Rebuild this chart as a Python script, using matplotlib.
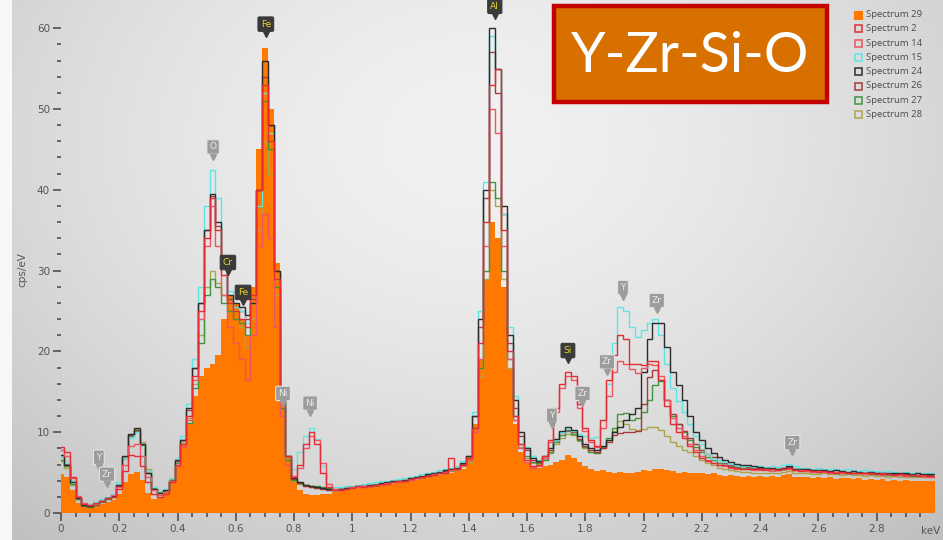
import numpy as np
import matplotlib
matplotlib.use("Agg")
import matplotlib.pyplot as plt
from matplotlib.patches import Rectangle

# ---------------- data ----------------
energy_kev = np.round(np.arange(151) * 0.02, 2)

spec29 = [4.8, 4.5, 2.8, 1.2, 0.9, 0.8, 0.9, 1.1, 1.3, 1.6,
          2.4, 3.8, 4.8, 5.1, 4.1, 2.5, 1.7, 1.8, 2.8, 4.2,
          6.0, 8.5, 11, 14.5, 17, 18, 18.5, 19.5, 24, 27,
          26, 24, 22, 28, 45, 57.5, 50, 31, 15, 7,
          3.8, 2.8, 2.4, 2.2, 2.2, 2.3, 2.4, 2.6, 2.7, 2.9,
          3.0, 3.1, 3.2, 3.3, 3.4, 3.4, 3.5, 3.6, 3.7, 3.8,
          4.0, 4.1, 4.3, 4.5, 4.6, 4.7, 4.9, 5.0, 5.2, 5.5,
          7, 11, 19, 29, 36, 34, 28, 18, 11, 7.5,
          6.3, 5.8, 5.6, 5.8, 6.0, 6.3, 6.6, 7.2, 6.8, 6.3,
          5.8, 5.4, 5.2, 5.3, 5.1, 5.0, 5.1, 4.9, 5.0, 5.1,
          5.3, 5.2, 5.5, 5.4, 5.3, 5.2, 5.0, 5.1, 5.0, 4.9,
          5.0, 4.8, 4.9, 4.7, 4.6, 4.7, 4.6, 4.5, 4.6, 4.5,
          4.6, 4.5, 4.6, 4.4, 4.7, 4.8, 4.5, 4.4, 4.5, 4.3,
          4.4, 4.3, 4.4, 4.2, 4.3, 4.3, 4.2, 4.3, 4.1, 4.2,
          4.1, 4.2, 4.0, 4.1, 4.0, 4.1, 3.9, 4.0, 4.0, 3.9,
          3.9]

spec2 = [8.2, 7.5, 4.5, 2.0, 1.1, 1.0, 1.2, 1.5, 1.8, 2.0,
         3.0, 5.2, 7.2, 7.0, 5.8, 3.8, 2.4, 2.0, 2.4, 3.8,
         6.0, 8.5, 12, 17, 25, 34, 39, 35, 29.5, 26,
         25, 24, 23, 27, 40, 53, 46, 29, 14, 7,
         4.5, 6.0, 8.5, 10.0, 8.5, 5.0, 3.2, 2.9, 2.9, 3.0,
         3.1, 3.3, 3.2, 3.4, 3.5, 3.6, 3.6, 3.8, 3.9, 4.0,
         4.2, 4.3, 4.4, 4.6, 4.7, 4.9, 5.0, 6.8, 5.4, 5.9,
         6.8, 10.5, 21, 36, 53, 55, 35, 20, 12, 8.5,
         6.5, 5.8, 6.0, 7.0, 9.0, 13, 16, 17.5, 17, 13.5,
         10.5, 9.0, 8.3, 11.5, 16.5, 19.5, 22, 21.5, 18.5, 18.5,
         18.3, 18.8, 18.8, 16.5, 13.2, 11, 10, 9.3, 8.3, 7.5,
         6.8, 6.4, 6.2, 6.0, 5.9, 5.7, 5.6, 5.5, 5.5, 5.4,
         5.4, 5.3, 5.4, 5.3, 5.5, 5.6, 5.3, 5.2, 5.3, 5.2,
         5.1, 5.2, 5.1, 5.0, 5.1, 5.0, 4.9, 5.0, 4.9, 4.9,
         4.8, 4.9, 4.8, 4.7, 4.8, 4.7, 4.7, 4.6, 4.7, 4.6,
         4.6]

spec14 = [7.8, 7.0, 4.3, 2.1, 1.2, 1.0, 1.1, 1.5, 1.9, 2.2,
          3.2, 6.0, 8.3, 8.5, 7.0, 4.5, 2.8, 2.2, 2.6, 3.9,
          5.8, 8.2, 11.5, 16.5, 24, 33, 38, 33, 27, 23,
          21, 19, 16.5, 22, 33, 37, 34, 23, 12, 6,
          4.6, 5.6, 8.0, 9.5, 9.0, 6.2, 3.6, 3.0, 2.9, 3.0,
          3.2, 3.2, 3.3, 3.3, 3.5, 3.5, 3.7, 3.8, 3.8, 4.0,
          4.1, 4.3, 4.5, 4.6, 4.8, 5.0, 5.1, 5.3, 5.5, 6.0,
          6.5, 10, 19, 33, 50, 47, 33, 19, 11.5, 8,
          6.3, 5.6, 5.8, 6.8, 8.8, 12.5, 15.5, 17, 16.5, 13,
          10.2, 8.8, 8.2, 10.5, 14.5, 17.5, 18.8, 18.5, 17.8, 17.3,
          18, 18.5, 18.3, 17, 14, 11.8, 10.5, 9.5, 8.6, 7.8,
          7.0, 6.5, 6.2, 6.0, 5.8, 5.6, 5.5, 5.4, 5.4, 5.3,
          5.3, 5.4, 5.2, 5.3, 5.4, 5.5, 5.3, 5.3, 5.2, 5.1,
          5.2, 5.1, 5.0, 5.1, 5.0, 4.9, 5.0, 4.9, 4.8, 4.9,
          4.8, 4.7, 4.8, 4.7, 4.7, 4.6, 4.7, 4.6, 4.6, 4.5,
          4.5]

spec15 = [7.0, 6.2, 4.0, 2.0, 1.2, 1.1, 1.3, 1.7, 2.0, 2.4,
          3.8, 6.8, 9.3, 10.0, 8.3, 5.2, 3.2, 2.7, 3.0, 4.3,
          6.8, 9.5, 13.5, 19, 28, 38, 42.5, 39, 31.5, 27.5,
          25.5, 25, 23.5, 26, 38, 52, 47, 29, 14, 7,
          5.5, 7.5, 9.5, 10.5, 9.2, 5.8, 3.6, 3.2, 3.2, 3.3,
          3.4, 3.5, 3.6, 3.7, 3.8, 3.9, 4.0, 4.1, 4.2, 4.3,
          4.5, 4.6, 4.8, 5.0, 5.1, 5.3, 5.5, 5.6, 5.8, 6.4,
          7, 12.5, 25, 41, 59, 55, 37, 23, 14.5, 10,
          8.2, 7.0, 6.5, 7.0, 8.0, 9.0, 10, 10.4, 10.2, 9.8,
          9.5, 9.3, 9.4, 11.5, 16, 21, 25.5, 25, 23, 21.8,
          22.6, 23.5, 24, 22, 18.5, 15.5, 13.8, 12.5, 11, 9.5,
          8.5, 7.3, 6.7, 6.5, 6.3, 6.1, 5.9, 5.8, 5.8, 5.7,
          5.8, 5.7, 5.8, 5.7, 5.9, 6.1, 5.8, 5.6, 5.6, 5.5,
          5.6, 5.4, 5.5, 5.4, 5.3, 5.4, 5.3, 5.2, 5.3, 5.2,
          5.2, 5.1, 5.2, 5.1, 5.0, 5.1, 5.0, 5.0, 4.9, 5.0,
          4.9]

spec24 = [7.2, 6.0, 3.8, 1.8, 1.0, 0.9, 1.1, 1.5, 1.8, 2.1,
          3.5, 7.0, 9.8, 10.5, 8.5, 5.0, 3.0, 2.5, 2.8, 4.0,
          6.5, 9.0, 13, 18, 26, 35, 39.5, 36, 31, 27,
          26, 25.5, 24.5, 26, 40, 56, 48, 30, 14, 7,
          4.3, 3.8, 3.5, 3.3, 3.2, 3.1, 3.0, 2.9, 3.0, 3.1,
          3.2, 3.3, 3.4, 3.5, 3.5, 3.7, 3.8, 3.9, 4.0, 4.1,
          4.3, 4.4, 4.6, 4.8, 4.9, 5.1, 5.3, 5.4, 5.6, 6.2,
          7, 12, 24, 40, 60, 55, 38, 22, 14, 10,
          8, 6.8, 6.4, 7, 8, 9.2, 10.2, 10.6, 10.3, 9.5,
          8.5, 8.0, 7.8, 8.3, 9.0, 10.0, 10.6, 11.5, 12.3, 13.0,
          17.5, 21.5, 23.5, 23.5, 20.5, 17.5, 15.8, 14, 12, 10,
          9, 8.0, 7.4, 6.9, 6.6, 6.3, 6.1, 6.0, 5.9, 5.8,
          5.7, 5.6, 5.6, 5.5, 5.6, 5.8, 5.5, 5.4, 5.4, 5.3,
          5.3, 5.3, 5.2, 5.3, 5.2, 5.1, 5.2, 5.1, 5.0, 5.1,
          5.0, 5.0, 4.9, 5.0, 4.9, 4.9, 4.8, 4.9, 4.8, 4.8,
          4.8]

spec26 = [7.0, 6.1, 3.9, 1.9, 1.0, 0.9, 1.1, 1.5, 1.8, 2.1,
          3.4, 6.8, 9.6, 10.3, 8.4, 5.0, 3.0, 2.5, 2.8, 4.0,
          6.4, 9.0, 12.8, 18, 26, 35, 39.2, 35.5, 30.5, 26.5,
          25.5, 25, 24, 26.5, 40, 54, 48, 30, 14, 7,
          4.2, 3.7, 3.4, 3.2, 3.1, 3.0, 2.9, 2.9, 3.0, 3.1,
          3.2, 3.3, 3.3, 3.4, 3.5, 3.6, 3.7, 3.8, 3.9, 4.0,
          4.2, 4.3, 4.5, 4.7, 4.8, 5.0, 5.2, 5.3, 5.5, 6.1,
          7, 12, 23, 39, 57, 52, 37, 21, 13, 9.5,
          7.8, 6.6, 6.3, 6.8, 7.8, 9, 10, 10.3, 10, 9.2,
          8.3, 7.8, 7.6, 8.0, 8.8, 9.6, 9.9, 10.0, 10.0, 10.2,
          13.5, 16.8, 17.7, 16.5, 14, 12.2, 11, 10.2, 9.3, 8.5,
          7.8, 7.3, 6.9, 6.5, 6.2, 6.0, 5.9, 5.8, 5.7, 5.6,
          5.6, 5.5, 5.5, 5.4, 5.5, 5.7, 5.4, 5.3, 5.3, 5.2,
          5.2, 5.2, 5.1, 5.1, 5.1, 5.0, 5.0, 5.0, 4.9, 4.9,
          4.9, 4.8, 4.8, 4.8, 4.7, 4.8, 4.7, 4.7, 4.6, 4.7,
          4.6]

spec27 = [6.6, 5.8, 3.6, 1.7, 0.9, 0.8, 1.0, 1.4, 1.7, 2.0,
          3.4, 6.8, 9.5, 10.2, 8.6, 5.2, 3.1, 2.5, 2.8, 4.1,
          6.2, 8.6, 11.2, 15.5, 21, 27, 29, 28, 26, 25,
          24, 23.5, 22, 26, 38, 51, 45, 28, 13, 6.5,
          4.1, 3.7, 3.5, 3.4, 3.3, 3.2, 3.1, 3.0, 3.0, 3.1,
          3.2, 3.3, 3.4, 3.5, 3.6, 3.7, 3.8, 3.9, 4.0, 4.1,
          4.2, 4.4, 4.5, 4.7, 4.8, 5.0, 5.1, 5.3, 5.4, 6.0,
          6.5, 10.5, 18, 30, 41, 39, 30, 19, 12, 8.5,
          7, 6.3, 6.2, 6.6, 7.6, 8.8, 9.7, 10.2, 9.8, 9.0,
          8.2, 7.6, 7.4, 8.2, 9.3, 10.5, 12.2, 12.4, 11.5, 11.8,
          12.5, 14, 15.8, 16.3, 14, 12, 11, 10, 9, 8.2,
          7.5, 6.9, 6.5, 6.2, 6.0, 5.8, 5.7, 5.6, 5.6, 5.5,
          5.5, 5.4, 5.4, 5.3, 5.4, 5.6, 5.3, 5.3, 5.2, 5.2,
          5.1, 5.2, 5.1, 5.0, 5.0, 5.0, 4.9, 4.9, 4.9, 4.8,
          4.8, 4.8, 4.7, 4.8, 4.7, 4.7, 4.6, 4.7, 4.6, 4.6,
          4.6]

spec28 = [6.4, 5.6, 3.5, 1.7, 1.0, 0.9, 1.1, 1.5, 1.8, 2.1,
          3.5, 6.9, 9.7, 10.4, 8.8, 5.4, 3.2, 2.6, 2.9, 4.2,
          6.4, 8.8, 11.8, 16, 22, 28, 30, 28.5, 27, 26,
          25, 23, 20.5, 24, 35, 46, 42, 27, 13, 6.5,
          4.0, 3.6, 3.3, 3.2, 3.1, 3.0, 2.9, 2.9, 3.0, 3.0,
          3.1, 3.2, 3.3, 3.4, 3.5, 3.6, 3.7, 3.8, 3.9, 4.0,
          4.1, 4.3, 4.4, 4.6, 4.7, 4.9, 5.0, 5.2, 5.3, 5.8,
          6.3, 10, 17, 29, 40, 38, 29, 18, 11.5, 8.2,
          6.8, 6.2, 6.1, 6.5, 7.4, 8.5, 9.3, 9.8, 9.6, 8.9,
          8.1, 7.6, 7.4, 8.0, 9.0, 10.2, 11.4, 11.0, 10.4, 10.3,
          10.4, 10.6, 10.6, 10.3, 9.5, 8.8, 8.3, 7.8, 7.5, 7.0,
          6.6, 6.2, 5.9, 5.6, 5.4, 5.3, 5.2, 5.1, 5.1, 5.0,
          5.0, 5.0, 4.9, 5.0, 5.1, 5.2, 5.0, 4.9, 4.9, 4.8,
          4.8, 4.9, 4.8, 4.8, 4.7, 4.8, 4.7, 4.7, 4.6, 4.7,
          4.6, 4.6, 4.5, 4.6, 4.5, 4.5, 4.4, 4.5, 4.4, 4.4,
          4.4]

legend_names = ["Spectrum 29", "Spectrum 2", "Spectrum 14", "Spectrum 15",
                "Spectrum 24", "Spectrum 26", "Spectrum 27", "Spectrum 28"]

x_tick_labels = ["0", "0.2", "0.4", "0.6", "0.8", "1", "1.2", "1.4", "1.6",
                 "1.8", "2", "2.2", "2.4", "2.6", "2.8"]

peak_labels = ["Fe", "Al", "O", "Cr", "Fe", "Ni", "Ni", "Si", "Y", "Zr", "Zr",
               "Y", "Zr", "Y", "Zr", "Zr"]
peak_kev = [0.703, 1.489, 0.522, 0.573, 0.625, 0.762, 0.855, 1.74, 1.685,
            1.79, 1.874, 1.929, 2.045, 0.13, 0.158, 2.51]
peak_cps = [59.3, 61.5, 44.1, 29.8, 26.1, 13.6, 12.4, 18.9, 10.9, 13.6,
            17.5, 26.7, 25.1, 5.7, 3.6, 7.5]
peak_dark = [True, True, False, True, True, False, False, True, False, False,
             False, False, False, False, False, False]

title_text = "Y-Zr-Si-O"

# ---------------- styling ----------------
W, H = 943, 540
fig = plt.figure(figsize=(W / 100, H / 100), dpi=100)

# background gradient
bg = fig.add_axes([0, 0, 1, 1], zorder=0)
yy, xx = np.mgrid[0:H, 0:W]
r = np.sqrt(((xx - 470) / 620.0) ** 2 + ((yy - 140) / 470.0) ** 2)
shade = 0.945 - 0.16 * np.clip(r, 0, 1.3) ** 1.6
shade[:, :12] = 0.97
img = np.dstack([shade, shade, shade])
bg.imshow(img, extent=(0, W, H, 0), aspect="auto")
bg.set_xlim(0, W)
bg.set_ylim(H, 0)
bg.axis("off")

ax = fig.add_axes([61 / W, 27 / H, 874 / W, 508 / H], zorder=1)
ax.set_facecolor("none")
ymax = 508 / 8.08
ax.set_xlim(0, 3.0)
ax.set_ylim(0, ymax)
for s in ax.spines.values():
    s.set_visible(False)

edges = np.append(energy_kev - 0.01, energy_kev[-1] + 0.01)

ax.stairs(spec29, edges, baseline=0, fill=True, color="#ff7800", zorder=2)

lines = [
    (spec28, "#aca64a"),
    (spec27, "#3c963c"),
    (spec26, "#a63a3a"),
    (spec15, "#5ee6e6"),
    (spec24, "#2c2c2c"),
    (spec14, "#f05460"),
    (spec2, "#e42c34"),
]
for vals, c in lines:
    ax.stairs(vals, edges, baseline=None, color=c, linewidth=1.0, zorder=3)

# ticks
ax.set_xticks(np.arange(0, 2.81, 0.2))
ax.set_xticklabels(x_tick_labels)
ax.set_xticks(np.arange(0, 3.0, 0.05), minor=True)
ax.set_yticks(np.arange(0, 61, 10))
ax.set_yticks(np.arange(0, 62, 2), minor=True)
for lab in ax.get_xticklabels() + ax.get_yticklabels():
    lab.set_fontfamily(["Liberation Sans Narrow", "DejaVu Sans"])
    lab.set_fontsize(7.5)
ax.tick_params(axis="both", which="major", direction="out", length=6,
               width=1.1, color="#454545", labelcolor="#555555", pad=2)
ax.tick_params(axis="both", which="minor", direction="out", length=3,
               width=1.1, color="#454545")

# overlay in pixel coordinates
ov = fig.add_axes([0, 0, 1, 1], zorder=5)
ov.set_xlim(0, W)
ov.set_ylim(H, 0)
ov.axis("off")
ov.patch.set_alpha(0)

ov.text(931, 531, "keV", ha="center", va="center", fontsize=7.5,
        family=["Liberation Sans Narrow", "DejaVu Sans"], color="#555555")
ov.text(22, 270, "cps/eV", ha="center", va="center", rotation=90,
        fontsize=7.5, family=["Liberation Sans Narrow", "DejaVu Sans"],
        color="#555555")

# title box
ov.add_patch(Rectangle((554, 6), 273, 96, facecolor="#d87000",
                       edgecolor="#c40000", linewidth=3.2, zorder=6))
ov.text(690, 57, title_text, ha="center", va="center", color="white",
        fontsize=40, family="Lato", zorder=7)

# legend
leg_colors = ["#ff7800", "#e42c34", "#f05460", "#5ee6e6", "#2c2c2c",
              "#a63a3a", "#3c963c", "#aca64a"]
for i, (name, c) in enumerate(zip(legend_names, leg_colors)):
    yrow = 14.5 + i * 14.3
    if i == 0:
        ov.add_patch(Rectangle((854, yrow - 4), 8, 8, facecolor=c,
                               edgecolor=c, linewidth=0.8, zorder=6))
    else:
        ov.add_patch(Rectangle((854.5, yrow - 3.5), 7, 7, facecolor="none",
                               edgecolor=c, linewidth=1.1, zorder=6))
    ov.text(866, yrow, name, ha="left", va="center", fontsize=6.8,
            family="Open Sans", color="#4a4a4a", zorder=6)

# element markers
for lab, e, v, dark in zip(peak_labels, peak_kev, peak_cps, peak_dark):
    fc = "#3a3a3a" if dark else "#9c9c9c"
    ec = "#3a3a3a" if dark else "#e4e4e4"
    tc = "#e8d428" if dark else "#ececec"
    ax.annotate(lab, xy=(e, v), xytext=(0, 7), textcoords="offset points",
                ha="center", va="center", fontsize=6.5, color=tc,
                family="DejaVu Sans", zorder=8, annotation_clip=False,
                bbox=dict(boxstyle="round,pad=0.3,rounding_size=0.15",
                          fc=fc, ec=ec, lw=0.8))
    ax.plot([e], [v], marker="v", markersize=4, color=fc, zorder=8,
            clip_on=False)

fig.savefig("out.png", dpi=100)
